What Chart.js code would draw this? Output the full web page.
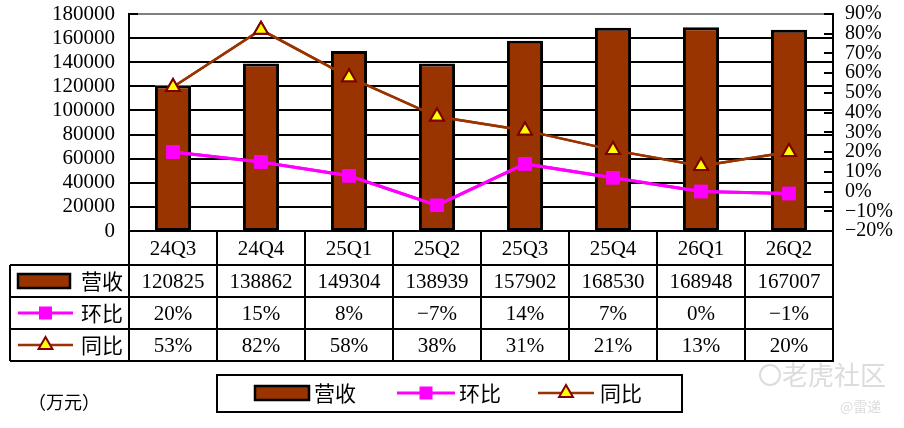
<!DOCTYPE html>
<html>
<head>
<meta charset="utf-8">
<script src="https://cdn.jsdelivr.net/npm/chart.js@4/dist/chart.umd.min.js"></script>
<style>
  html, body { margin: 0; padding: 0; background: #fff; }
  #wrap { width: 904px; height: 428px; position: relative; }
</style>
</head>
<body>
<div id="wrap"><canvas id="chart"></canvas></div>
<script>
// data
const quarters = ['24Q3', '24Q4', '25Q1', '25Q2', '25Q3', '25Q4', '26Q1', '26Q2'];
const revenue = [120825, 138862, 149304, 138939, 157902, 168530, 168948, 167007];
const qoq = [20, 15, 8, -7, 14, 7, 0, -1];
const yoy = [53, 82, 58, 38, 31, 21, 13, 20];
const seriesNames = ['营收', '环比', '同比'];
const unitLabel = '（万元）';
const revTicks = [0, 20000, 40000, 60000, 80000, 100000, 120000, 140000, 160000, 180000];

const BROWN = '#993300';
const PINK = '#ff00ff';
const YELLOW = '#ffff00';
const DARKRED = '#800000';
const SERIF = '"Liberation Serif", "Noto Sans CJK SC", serif';
const CJK = '"Noto Sans CJK SC", sans-serif';

const pct = v => (v < 0 ? '\u2212' + Math.abs(v) : v) + '%';

function drawSquare(ctx, x, y, s) {
  ctx.fillStyle = PINK;
  ctx.fillRect(x - s / 2, y - s / 2, s, s);
}
function drawTriangle(ctx, x, y, r) {
  ctx.beginPath();
  ctx.moveTo(x, y - r);
  ctx.lineTo(x + r * 0.866, y + r * 0.5);
  ctx.lineTo(x - r * 0.866, y + r * 0.5);
  ctx.closePath();
  ctx.fillStyle = YELLOW;
  ctx.fill();
  ctx.strokeStyle = DARKRED;
  ctx.lineWidth = 2;
  ctx.stroke();
}
function seg(ctx, x1, y1, x2, y2) {
  ctx.beginPath();
  ctx.moveTo(x1, y1);
  ctx.lineTo(x2, y2);
  ctx.stroke();
}
// legend symbols: kind 0 bar, 1 square line, 2 triangle line
function drawSymbol(ctx, kind, x1, x2, y) {
  const cx = (x1 + x2) / 2;
  if (kind === 0) {
    ctx.fillStyle = BROWN;
    ctx.fillRect(x1, y - 7, x2 - x1, 14);
    ctx.strokeStyle = '#000';
    ctx.lineWidth = 2.5;
    ctx.strokeRect(x1, y - 7, x2 - x1, 14);
  } else if (kind === 1) {
    ctx.strokeStyle = PINK;
    ctx.lineWidth = 3;
    seg(ctx, x1, y, x2, y);
    drawSquare(ctx, cx, y, 13);
  } else {
    ctx.strokeStyle = BROWN;
    ctx.lineWidth = 2.5;
    seg(ctx, x1, y, x2, y);
    drawTriangle(ctx, cx, y, 8);
  }
}

const tablePlugin = {
  id: 'dataTable',
  afterDraw(chart) {
    const { ctx, chartArea: a, scales } = chart;
    const x = scales.x, y = scales.y, y1 = scales.y1;
    const colW = (a.right - a.left) / quarters.length;
    const rows = [a.bottom, a.bottom + 34, a.bottom + 66, a.bottom + 98, a.bottom + 130];
    const tableLeft = 10;
    ctx.save();

    // horizontal grid from the left scale, only in the gaps between bars
    const halfBar = colW * 0.41 / 2;
    const bars = revenue.map((v, i) => {
      const cx = x.getPixelForValue(i);
      return { l: cx - halfBar, r: cx + halfBar, top: y.getPixelForValue(v) };
    });
    ctx.lineWidth = 2;
    revTicks.forEach((v, i) => {
      const py = Math.round(y.getPixelForValue(v));
      if (!isFinite(py)) return;
      ctx.strokeStyle = i === revTicks.length - 1 ? '#808080' : '#000';
      let start = a.left;
      bars.forEach(b => {
        if (isFinite(b.top) && py > b.top) { seg(ctx, start, py, b.l, py); start = b.r; }
      });
      seg(ctx, start, py, a.right, py);
    });
    // lines back on top of the grid
    [1, 0].forEach(di => {
      const meta = chart.getDatasetMeta(di);
      if (meta && meta.controller) meta.controller.draw();
    });

    // inner tick marks on the axes
    ctx.strokeStyle = '#000';
    ctx.lineWidth = 2;
    y1.ticks.forEach(t => {
      const py = Math.round(y1.getPixelForValue(t.value));
      seg(ctx, a.right - 9, py, a.right, py);
    });
    seg(ctx, a.left, Math.round(a.top), a.left + 9, Math.round(a.top));

    // grid of the table
    seg(ctx, a.left, rows[0], a.right, rows[0]);
    for (let r = 1; r < rows.length; r++) seg(ctx, tableLeft, rows[r], a.right + 1, rows[r]);
    seg(ctx, tableLeft, rows[1], tableLeft, rows[4]);
    for (let k = 0; k <= quarters.length; k++) {
      const px = a.left + k * colW;
      seg(ctx, px, rows[0], px, rows[4]);
    }

    // cell text
    ctx.textAlign = 'center';
    ctx.textBaseline = 'middle';
    ctx.fillStyle = '#000';
    ctx.font = '21px ' + SERIF;
    const rowVals = [quarters, revenue.map(String), qoq.map(pct), yoy.map(pct)];
    rowVals.forEach((vals, r) => {
      const cy = (rows[r] + rows[r + 1]) / 2 + 1;
      vals.forEach((v, i) => ctx.fillText(v, x.getPixelForValue(i), cy));
    });

    // row headers
    seriesNames.forEach((name, r) => {
      const cy = (rows[r + 1] + rows[r + 2]) / 2;
      drawSymbol(ctx, r, 18, r === 0 ? 70 : 73, cy);
      ctx.fillStyle = '#000';
      ctx.font = '21px ' + CJK;
      ctx.textAlign = 'center';
      ctx.fillText(name, 102, cy);
    });

    // legend box
    ctx.strokeStyle = '#000';
    ctx.lineWidth = 2;
    ctx.strokeRect(217, 375, 465, 37);
    const ly = 393;
    const items = [[255, 309, 335], [397, 455, 480], [538, 594, 621]];
    items.forEach(([x1, x2, tx], i) => {
      drawSymbol(ctx, i, x1, x2, ly);
      ctx.fillStyle = '#000';
      ctx.font = '21px ' + CJK;
      ctx.textAlign = 'center';
      ctx.fillText(seriesNames[i], tx, ly);
    });

    // unit
    ctx.font = '18px ' + CJK;
    ctx.textAlign = 'left';
    ctx.fillText(unitLabel, 28, 402);

    // watermark
    ctx.fillStyle = '#dcdcdc';
    ctx.font = '26px ' + CJK;
    ctx.fillText('老虎社区', 782, 375);
    ctx.strokeStyle = '#dcdcdc';
    ctx.lineWidth = 2;
    ctx.beginPath();
    ctx.arc(770, 375, 10, 0, Math.PI * 2);
    ctx.stroke();
    ctx.font = '14px ' + CJK;
    ctx.fillText('@雷递', 840, 407);

    ctx.restore();
  }
};

new Chart(document.getElementById('chart'), {
  type: 'bar',
  data: {
    labels: quarters,
    datasets: [
      {
        type: 'line',
        label: seriesNames[2],
        data: yoy,
        yAxisID: 'y1',
        borderColor: BROWN,
        borderWidth: 2.5,
        pointStyle: 'triangle',
        pointRadius: 8,
        pointBackgroundColor: YELLOW,
        pointBorderColor: DARKRED,
        pointBorderWidth: 2,
        order: 0
      },
      {
        type: 'line',
        label: seriesNames[1],
        data: qoq,
        yAxisID: 'y1',
        borderColor: PINK,
        borderWidth: 3,
        pointStyle: 'rect',
        pointRadius: 9.5,
        pointBackgroundColor: PINK,
        pointBorderColor: PINK,
        pointBorderWidth: 0,
        order: 1
      },
      {
        type: 'bar',
        label: seriesNames[0],
        data: revenue,
        yAxisID: 'y',
        backgroundColor: BROWN,
        borderColor: '#000',
        borderWidth: 3,
        borderSkipped: false,
        categoryPercentage: 1,
        barPercentage: 0.41,
        order: 2
      }
    ]
  },
  options: {
    responsive: true,
    maintainAspectRatio: false,
    animation: false,
    layout: { padding: { left: 0, right: 0, top: 14, bottom: 197 } },
    plugins: { legend: { display: false }, tooltip: { enabled: false } },
    scales: {
      x: { display: false, offset: true },
      y: {
        position: 'left',
        min: revTicks[0],
        max: revTicks[revTicks.length - 1],
        ticks: {
          stepSize: revTicks[1] - revTicks[0], autoSkip: false, color: '#000',
          font: { family: SERIF, size: 21 }, padding: 14, callback: v => String(v)
        },
        grid: { display: false, drawTicks: false },
        border: { display: true, color: '#000', width: 2 },
        afterFit(s) { s.width = 129; s.paddingTop = 0; s.paddingBottom = 0; }
      },
      y1: {
        position: 'right',
        min: -20,
        max: 90,
        ticks: {
          stepSize: 10, autoSkip: false, color: '#000',
          font: { family: SERIF, size: 20 }, padding: 12, callback: v => pct(v)
        },
        grid: { drawOnChartArea: false, drawTicks: false },
        border: { display: true, color: '#000', width: 2 },
        afterFit(s) { s.width = 71; s.paddingTop = 0; s.paddingBottom = 0; }
      }
    }
  },
  plugins: [tablePlugin]
});
</script>
</body>
</html>
